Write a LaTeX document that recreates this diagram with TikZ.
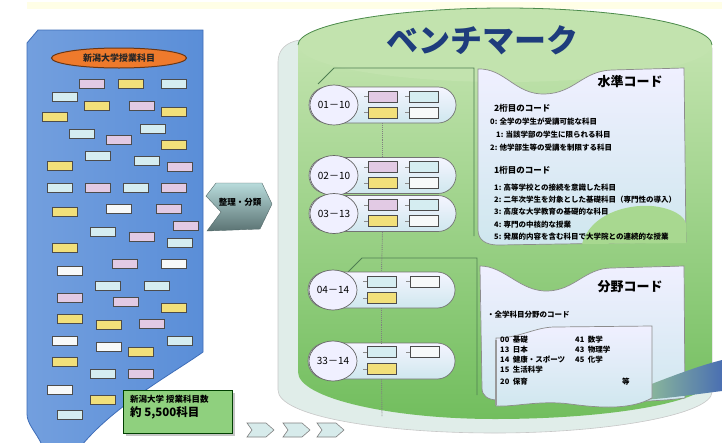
\documentclass[tikz,border=0pt]{standalone}
\usepackage{fontspec}
\newfontfamily\jp{Noto Sans CJK JP}
\usepackage{tikz}
\usetikzlibrary{shapes,arrows,positioning,shadows}

\newcommand{\sz}[1]{\fontsize{#1}{#1}\selectfont}

\definecolor{cardyel}{HTML}{F2E07A}
\definecolor{cardpink}{HTML}{E2CAE4}
\definecolor{cardcyan}{HTML}{D5EDF1}
\definecolor{cardwhite}{HTML}{F7F9F9}
\definecolor{sheetblue}{HTML}{5A8ED8}
\definecolor{sheetedge}{HTML}{3E6DB8}
\definecolor{headorange}{HTML}{EE7A2C}
\definecolor{boxgreen}{HTML}{8FD07E}
\definecolor{rimpale}{HTML}{E0EDE9}
\definecolor{topgreen}{HTML}{C2E3AE}
\definecolor{bodygreen}{HTML}{72BE5E}
\definecolor{blobgreen}{HTML}{A8D890}
\definecolor{tabline}{HTML}{4F7F52}
\definecolor{titleblue}{HTML}{1E3C7C}
\definecolor{panelblue}{HTML}{CFE7EE}
\definecolor{swooshblue}{HTML}{4A6FB2}
\definecolor{signteal}{HTML}{A6D2D2}

\begin{document}
\begin{tikzpicture}[x=1pt,y=-1pt,font=\jp]

\tikzstyle{card}=[draw=black!70,line width=0.7pt,inner sep=0pt,minimum width=25pt,minimum height=9pt]
\tikzstyle{slot}=[card,minimum width=29pt,minimum height=11pt]
\tikzstyle{pill}=[draw=black!55,line width=0.7pt,rounded corners=18pt,inner sep=0pt,
  minimum width=147pt,minimum height=36pt,top color=blue!4,bottom color=panelblue]
\tikzstyle{badge}=[ellipse,draw=black!60,line width=0.7pt,inner sep=0pt,
  minimum width=48pt,minimum height=40pt,fill=blue!6,font=\jp\sz{10}]
\tikzstyle{vdots}=[densely dotted,black!50,line width=0.9pt]
\tikzstyle{tick}=[black!45,line width=0.6pt]
\tikzstyle{panel}=[draw=black!45,line width=0.7pt,top color=blue!6,bottom color=panelblue]
\tikzstyle{line}=[anchor=west,inner sep=0pt,font=\jp\bfseries\sz{7.5}]

\useasboundingbox (0,0) rectangle (722,442);
\fill[white] (0,0) rectangle (722,442);
\fill[yellow!10] (27,2) rectangle (722,9);

% course sheet on the left
\draw[sheetedge,line width=0.8pt,left color=sheetblue!85!white,right color=sheetblue]
  (27,43) -- (38,30) -- (203,30) -- (203,352)
  .. controls (175,372) and (115,405) .. (82,445) -- (42,445)
  .. controls (36,432) and (27,424) .. (27,414) -- cycle;

\node[ellipse,draw=headorange!45!black,line width=1pt,fill=headorange,inner sep=0pt,
  minimum width=135pt,minimum height=20pt,font=\jp\bfseries\sz{9},text=black!85] (head) at (119,58) {新潟大学授業科目};

\foreach \cx/\cy/\cc [count=\i] in {
  92/84/cardpink, 131/84/cardyel, 174/84/cardcyan, 65/97/cardcyan,
  97/106/cardyel, 142/106/cardpink, 174/112/cardyel, 55/117/cardyel,
  82/134/cardcyan, 153/129/cardcyan, 119/140/cardpink, 174/145/cardyel,
  98/156/cardcyan, 147/161/cardcyan, 60/166/cardyel, 180/167/cardpink,
  60/188/cardcyan, 98/188/cardpink, 136/188/cardcyan, 174/188/cardpink,
  65/212/cardyel, 119/209/cardwhite, 169/209/cardpink, 186/226/cardpink,
  103/232/cardcyan, 142/237/cardpink, 180/243/cardcyan, 65/248/cardyel,
  70/271/cardwhite, 125/264/cardpink, 174/264/cardwhite, 108/286/cardcyan,
  157/286/cardcyan, 70/298/cardpink, 126/302/cardpink, 174/308/cardyel,
  70/319/cardyel, 109/325/cardyel, 152/324/cardpink, 65/341/cardwhite,
  109/347/cardwhite, 180/341/cardcyan, 141/352/cardyel, 65/362/cardyel,
  103/374/cardcyan, 141/374/cardpink, 60/390/cardwhite, 103/400/cardyel,
  70/415/cardcyan}
  \node[card,fill=\cc] (card\i) at (\cx,\cy) {};

\node[draw=green!25!black,line width=0.8pt,fill=boxgreen,inner sep=0pt,
  minimum width=109pt,minimum height=43pt,
  drop shadow={shadow xshift=2.5pt,shadow yshift=-2.5pt,opacity=0.45}] (total) at (177.5,411.5) {};
\node[anchor=north west,inner sep=0pt,align=left,font=\jp\bfseries\sz{8.5}] (totaltxt) at (130,395)
  {新潟大学\ 授業科目数\\[2pt]{\sz{11.5}約 5,500科目}};

% sorting arrow
\shade[top color=signteal!80!white,bottom color=signteal!55!black,draw=signteal!50!black,line width=0.4pt]
  (216,183) -- (262,183) -- (272,204) -- (260,229) -- (207,231) -- (221,212) -- (206,196) -- cycle;
\node[font=\jp\bfseries\sz{8.5}] (sort) at (240,202) {整理・分類};

% small arrows
\foreach \x in {247,283,317}
  \draw[black!50,fill=signteal!45!white,line width=0.6pt]
    (\x,423) -- (\x+19,423) -- (\x+27,430) -- (\x+19,437) -- (\x,437) -- (\x+5,430) -- cycle;

% benchmark cylinder
\draw[black!22,fill=rimpale,line width=0.6pt]
  (300,40) .. controls (286,42) and (278,50) .. (278,62) -- (278,390)
  .. controls (278,416) and (380,433) .. (495,433)
  .. controls (610,433) and (712,414) .. (712,392) -- (712,48) -- cycle;
\shade[top color=topgreen,bottom color=bodygreen]
  (298,46) -- (298,372) .. controls (298,398) and (390,419) .. (495,419)
  .. controls (610,419) and (712,402) .. (712,378) -- (712,46) -- cycle;
\fill[topgreen] (505,45) ellipse [x radius=207, y radius=37];
\draw[green!35!black!70,line width=0.8pt]
  (298,45) .. controls (298,25) and (391,8) .. (505,8) .. controls (619,8) and (712,25) .. (712,45);

\node[font=\jp\bfseries\sz{32},text=titleblue] (title) at (482,40) {ベンチマーク};

% folders behind the groups
\draw[tabline,line width=0.8pt] (318,84) -- (334,68) -- (474,68) -- (474,236);
\draw[tabline,line width=0.8pt] (348,272) -- (362,258) -- (477,258) -- (477,395);

% code groups
\node[pill] (p1) at (382.5,105) {};
\node[pill] (p2) at (382.5,175.5) {};
\node[pill] (p3) at (382.5,213.5) {};
\node[pill] (p4) at (381.5,290) {};
\node[pill] (p5) at (381.5,361) {};

\node[badge] (b1) at (334,105) {01－10};
\node[badge] (b2) at (334,175.5) {02－10};
\node[badge] (b3) at (334,213.5) {03－13};
\node[badge] (b4) at (333,290) {04－14};
\node[badge] (b5) at (333,361) {33－14};

\node[slot,fill=cardpink] (p1a) at ([yshift=8.5pt]p1.center) {};
\node[slot,fill=cardcyan] (p1b) [right=12pt of p1a] {};
\node[slot,fill=cardyel] (p1c) at ([yshift=-7.5pt]p1.center) {};
\node[slot,fill=cardwhite] (p1d) [right=12pt of p1c] {};

\node[slot,fill=cardpink] (p2a) at ([yshift=8.5pt]p2.center) {};
\node[slot,fill=cardcyan] (p2b) [right=12pt of p2a] {};
\node[slot,fill=cardyel] (p2c) at ([yshift=-7.5pt]p2.center) {};
\node[slot,fill=cardwhite] (p2d) [right=12pt of p2c] {};

\node[slot,fill=cardpink] (p3a) at ([yshift=8.5pt]p3.center) {};
\node[slot,fill=cardcyan] (p3b) [right=12pt of p3a] {};
\node[slot,fill=cardyel] (p3c) at ([yshift=-7.5pt]p3.center) {};
\node[slot,fill=cardwhite] (p3d) [right=12pt of p3c] {};

\node[slot,fill=cardcyan] (p4a) at ([yshift=8.5pt]p4.center) {};
\node[slot,fill=cardwhite] (p4b) [right=14pt of p4a] {};
\node[slot,fill=cardyel] (p4c) at ([yshift=-8pt]p4.center) {};

\node[slot,fill=cardcyan] (p5a) at ([yshift=9pt]p5.center) {};
\node[slot,fill=cardwhite] (p5b) [right=14pt of p5a] {};
\node[slot,fill=cardyel] (p5c) at ([yshift=-8pt]p5.center) {};

\foreach \s in {p1a,p1b,p1c,p1d,p2a,p2b,p2c,p2d,p3a,p3b,p3c,p3d,p4a,p4b,p4c,p5a,p5b,p5c}
  \draw[tick] (\s.west) -- ++(-4,0);

\coordinate (tail) at (382,416);
\draw[vdots] (p1.south) -- (p2.north);
\draw[vdots] (p3.south) -- (p4.north);
\draw[vdots] (p4.south) -- (p5.north);
\draw[vdots] (p5.south) -- (tail);

% level code sheet
\draw[panel]
  (478,69) .. controls (505,68) and (515,95) .. (545,94)
  .. controls (575,93) and (582,71) .. (612,70) -- (684,68) -- (686,242)
  -- (498,245) .. controls (486,245) and (478,240) .. (478,230) -- cycle;
\fill[blobgreen]
  (582,244) .. controls (590,215) and (625,204) .. (652,206)
  .. controls (672,208) and (685,216) .. (686,224) -- (686,243) -- cycle;
\node[font=\jp\bfseries\sz{13}] (lvl) at (630,82) {水準コード};
\node[line,font=\jp\bfseries\sz{8.5}] (l0) at (494,108) {2桁目のコード};
\node[line] (l1) at (490,122) {0: 全学の学生が受講可能な科目};
\node[line] (l2) at (496,135) {1: 当該学部の学生に限られる科目};
\node[line] (l3) at (490,148) {2: 他学部生等の受講を制限する科目};
\node[line,font=\jp\bfseries\sz{8.5}] (l4) at (494,170) {1桁目のコード};
\node[line] (l5) at (494,188) {1: 高等学校との接続を意識した科目};
\node[line] (l6) at (494,200) {2: 二年次学生を対象とした基礎科目（専門性の導入）};
\node[line] (l7) at (494,212) {3: 高度な大学教育の基礎的な科目};
\node[line] (l8) at (494,225) {4: 専門の中核的な授業};
\node[line] (l9) at (494,237) {5: 発展的内容を含む科目で大学院との連続的な授業};

% field code sheet
\draw[panel]
  (480,266) .. controls (505,266) and (520,292) .. (548,291)
  .. controls (575,290) and (585,268) .. (612,268) -- (684,266) -- (685,398)
  .. controls (640,404) and (560,402) .. (498,400)
  .. controls (488,400) and (482,396) .. (482,388) -- cycle;
\shade[left color=blobgreen,right color=swooshblue]
  (615,398) .. controls (650,385) and (690,368) .. (722,360) -- (722,391)
  .. controls (690,395) and (650,401) .. (615,401) -- cycle;
\draw[panel]
  (496,338) .. controls (520,338) and (535,327) .. (555,327) -- (652,326) -- (652,398)
  .. controls (630,410) and (600,408) .. (570,404)
  .. controls (540,400) and (515,407) .. (496,406) -- cycle;
\draw[black!40,line width=1.4pt] (496,340) -- (496,405);
\node[font=\jp\bfseries\sz{13}] (fld) at (630,287) {分野コード};
\node[line] (f0) at (487,315) {・全学科目分野のコード};
\foreach \n/\w/\yy in {00/基礎/340,13/日本/350,14/健康・スポーツ/360,15/生活科学/370,20/保育/382}
  \node[line] at (500,\yy) {\n\ \ \w};
\foreach \n/\w/\yy in {41/数学/340,43/物理学/350,45/化学/360}
  \node[line] at (575,\yy) {\n\ \ \w};
\node[line] (etc) at (622,382) {等};

\end{tikzpicture}
\end{document}
